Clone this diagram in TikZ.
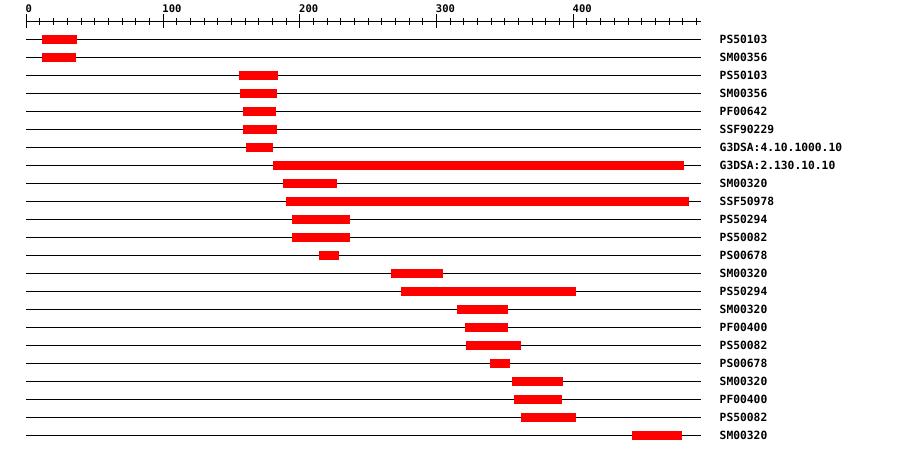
\documentclass[tikz,border=0pt]{standalone}
\usepackage{fontspec}
\newfontfamily\pixfont{DejaVu Sans Mono}[FakeBold=0]
\begin{document}
\begin{tikzpicture}[x=1pt,y=-1pt,
  trackline/.style={black,line width=1pt},
  hitbar/.style={fill=red},
  lbl/.style={anchor=base west,inner sep=0pt,font=\pixfont\bfseries\fontsize{11.3}{12}\selectfont},
  axislbl/.style={anchor=base west,inner sep=0pt,font=\pixfont\bfseries\fontsize{10.5}{12}\selectfont}]
\useasboundingbox (0,0) rectangle (900,454);
% axis
\coordinate (axL) at (26,21.5);
\coordinate (axR) at (701,21.5);
\draw[trackline] (axL) -- (axR);
\foreach \v in {0,10,...,490}{
  \pgfmathsetmacro{\xx}{26.3+1.3675*\v}
  \draw[black,line width=1pt] (\xx,18) -- (\xx,25);
}
\foreach \v in {0,100,200,300,400}{
  \pgfmathsetmacro{\xx}{26.3+1.3675*\v}
  \draw[black,line width=1pt] (\xx,14) -- (\xx,28.5);
  \node[axislbl] (ax\v) at (\xx-0.8,12.3) {\v};
}
% tracks
\foreach \i/\a/\b/\t in {
 1/42/77/PS50103,
 2/42/76/SM00356,
 3/239/278/PS50103,
 4/240/277/SM00356,
 5/243/276/PF00642,
 6/243/277/SSF90229,
 7/246/273/G3DSA:4.10.1000.10,
 8/273/684/G3DSA:2.130.10.10,
 9/283/337/SM00320,
 10/286/689/SSF50978,
 11/292/350/PS50294,
 12/292/350/PS50082,
 13/319/339/PS00678,
 14/391/443/SM00320,
 15/401/576/PS50294,
 16/457/508/SM00320,
 17/465/508/PF00400,
 18/466/521/PS50082,
 19/490/510/PS00678,
 20/512/563/SM00320,
 21/514/562/PF00400,
 22/521/576/PS50082,
 23/632/682/SM00320}{
  \pgfmathsetmacro{\yy}{39.3+18*(\i-1)}
  \coordinate (s\i) at (26,\yy);
  \coordinate (e\i) at (701,\yy);
  \draw[trackline] (s\i) -- (e\i);
  \fill[hitbar] (\a,\yy-4.3) rectangle (\b,\yy+4.7);
  \node[lbl] (t\i) at (719.5,\yy+4) {\t};
}
\end{tikzpicture}
\end{document}
